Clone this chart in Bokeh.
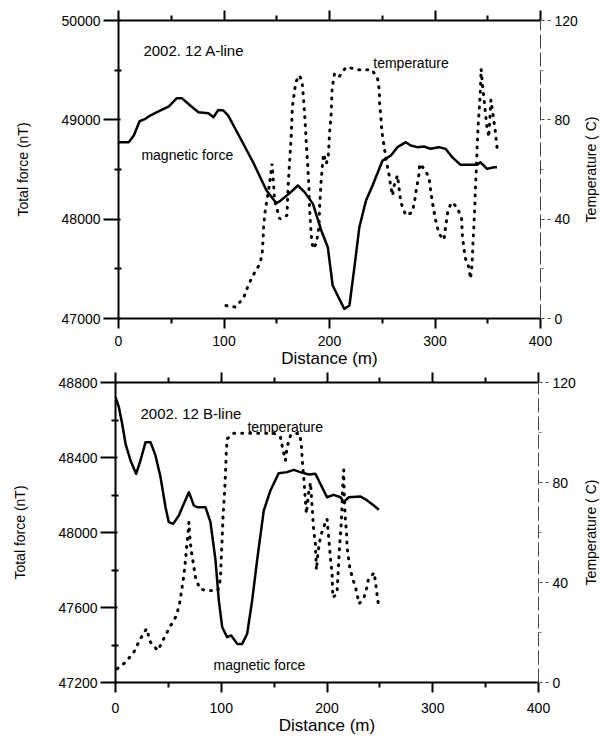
from bokeh.plotting import figure
from bokeh.layouts import column, row
from bokeh.models import (Range1d, LinearAxis, FixedTicker, NumeralTickFormatter, Label, Title)
from bokeh.embed import file_html
from bokeh.resources import INLINE

# ---------------- data: A-line (top) ----------------
a_mag_x = [0, 9.7, 14.5, 20, 25.5, 30, 36.5, 42.8, 47.5, 55.3, 60, 68, 75.8, 85.2, 90, 94.6, 99.4,
           104, 115, 127.6, 140.3, 149.7, 152.5, 162.3, 170, 176.4, 184.3, 192.2, 198.4, 203, 214,
           218.9, 223.6, 228.3, 234.6, 240.8, 250.3, 258.2, 264.4, 272.4, 277, 283.3, 289.6, 295.9,
           303.8, 310, 316.3, 324.2, 332, 340, 343, 349.4, 355.7, 358.8]
a_mag_y = [48775, 48775, 48842, 48986, 49010, 49043, 49077, 49111, 49134, 49218, 49218, 49144,
           49077, 49067, 49026, 49100, 49094, 49043, 48825, 48573, 48288, 48161, 48178, 48262,
           48339, 48272, 48154, 47886, 47718, 47332, 47097, 47131, 47516, 47919, 48188, 48339,
           48590, 48641, 48725, 48775, 48742, 48725, 48731, 48708, 48725, 48708, 48624, 48547,
           48547, 48547, 48573, 48506, 48523, 48523]

a_temp_x = [101.9, 111.3, 118.9, 123.6, 129.2, 134, 136.2, 137, 137.7, 139.3, 141.8, 144, 145.6,
            148, 152.8, 159.7, 160.7, 162.3, 163.8, 164.8, 168, 171.7, 174.2, 175.5, 177, 178,
            179.5, 180.5, 181, 182.7, 184.3, 187.4, 190, 190.6, 192.1, 194.3, 197, 199, 200,
            201.6, 202.5, 204.7, 208.8, 215.7, 227.7, 240.3, 245.6, 247.2, 247.5, 248.8, 249.7,
            251.9, 253.5, 256, 258.2, 259.7, 261.3, 264.4, 266, 267.6, 272.4, 278.6, 281, 282.4,
            284.9, 285.5, 289.6, 294.3, 295.9, 297.5, 300.6, 303.8, 308.5, 310, 312.3, 315.7,
            321.1, 325.2, 325.8, 327.4, 329, 332, 333.7, 335.2, 335.8, 336.8, 337.7, 338.4,
            339.3, 339.9, 340.8, 342.1, 343.1, 343.7, 345, 347, 349, 351, 353, 355, 357, 359]
a_temp_y = [5.2, 4.6, 8.6, 14, 18.6, 22, 26, 31.4, 38, 44.2, 50.3, 56.9, 62.3, 47.5, 40.1, 41.5,
            52.9, 63.6, 74.4, 85.1, 95.2, 97.9, 94.5, 87.8, 78.5, 70.4, 60.9, 52.9, 44.8, 33.4,
            28.1, 30.1, 36.8, 44.8, 55.6, 66.3, 62.3, 66, 74.4, 82.4, 92.5, 98.5, 97.2, 101.2,
            100.2, 100.2, 96.5, 91.8, 86.5, 80.4, 75, 69, 64.3, 58.9, 52.9, 49.5, 53.5, 57.6,
            52.2, 46.8, 41.5, 42.8, 48.2, 52.2, 58.3, 62.3, 60.3, 56.9, 51.5, 46.8, 39.5, 34.1,
            31.7, 36.8, 43.5, 46.8, 44.8, 40.1, 34.1, 28.1, 24, 20.7, 16, 22, 28.7, 36.8, 44.8,
            53.5, 60.9, 68.3, 77, 85.1, 92.5, 100.5, 94, 86, 78, 73, 88, 82, 76, 68]

# ---------------- data: B-line (bottom) ----------------
b_mag_x = [0, 3.2, 6.3, 9.5, 14.2, 19.5, 23.6, 28.4, 33.1, 37.8, 42.6, 47.3, 50.4, 54.5, 59.9,
           64.6, 69.4, 74.1, 77.2, 85.1, 89.8, 94.6, 97.7, 100.9, 105.6, 109.4, 115.1, 119.8,
           124.5, 129.2, 133.9, 140.2, 146.5, 154.3, 162.2, 168.5, 174.8, 182.7, 189, 193.7,
           200, 206.3, 212.8, 215.8, 220.6, 231.7, 238, 244.3, 249]
b_mag_y = [48722, 48668, 48580, 48473, 48384, 48313, 48384, 48482, 48482, 48411, 48295, 48135,
           48055, 48046, 48091, 48153, 48215, 48144, 48135, 48135, 48055, 47851, 47637, 47495,
           47442, 47451, 47406, 47406, 47460, 47637, 47851, 48117, 48224, 48316, 48322, 48334,
           48322, 48309, 48313, 48260, 48188, 48201, 48188, 48162, 48188, 48192, 48171, 48144,
           48121]

b_temp_x = [1.6, 9.5, 17.3, 23, 29.3, 33.1, 40, 45.6, 51.3, 57.7, 60.8, 63, 64.6, 66.2, 67.1,
            68.4, 69.4, 70.3, 71.6, 73.4, 75.6, 79.7, 85.1, 91.4, 96.7, 99.3, 99.9, 100.9, 101.8,
            103.1, 104, 104.7, 105.6, 111.9, 121.4, 130.8, 140.2, 149.7, 156, 158.5, 160.7,
            162.2, 165.5, 169.5, 174.3, 175.9, 176.5, 178, 179.6, 180.5, 182.7, 184.4, 186,
            187.4, 189, 190, 191.5, 193.7, 196.2, 200, 201.6, 203.2, 204.8, 205.5, 209.5, 210.1,
            211, 212, 213.3, 214.2, 214.8, 215.8, 216.5, 217.4, 218.5, 219, 221.5, 224, 227.3,
            230.4, 235, 237.7, 239, 244.6, 246.2, 247.8, 249.3]
b_temp_y = [5.5, 8.1, 12.1, 17.1, 21.5, 16.1, 12.8, 17.5, 22.1, 26.8, 32.1, 38.1, 42.8, 48.8,
            53.5, 58.8, 64.1, 58.1, 52.8, 48.1, 42.1, 37.5, 36.8, 36.8, 36.8, 41.5, 48.8, 58.1,
            67.5, 75.5, 83.5, 91.5, 97.5, 99.7, 99.7, 99.7, 99.7, 99.7, 98.1, 92.8, 88.8, 94.1,
            98.8, 99.7, 99.5, 94.1, 89.5, 82, 72.8, 67.5, 76, 80, 70, 60.8, 55.5, 45, 52, 58,
            61.5, 65.5, 58, 50, 43.5, 34, 35.5, 40.8, 47.5, 55.5, 62, 70, 78, 85, 72, 65, 59.5,
            54, 46, 42, 37.5, 31.5, 34, 38, 41, 44, 39, 33.5, 29.5]

x_ticks = [0, 100, 200, 300, 400]
x_minor = [50, 150, 250, 350]
a_force_ticks = [47000, 48000, 49000, 50000]
a_force_minor = [47500, 48500, 49500]
b_force_ticks = [47200, 47600, 48000, 48400, 48800]
b_force_minor = [47400, 47800, 48200, 48600]
temp_ticks = [0, 40, 80, 120]
temp_minor = [20, 60, 100]

FONT = "Liberation Sans"
SIDE_W = 25


def make_panel(height, left, right, top, bottom, y0, y1, yticks, yminor, lab_standoff,
               mag_x, mag_y, t_x, t_y, line_label, ll_xy, mf_xy, tp_xy):
    p = figure(width=605 - SIDE_W, height=height, x_range=Range1d(0, 400),
               y_range=Range1d(y0, y1),
               x_axis_type=None, y_axis_type=None, output_backend="svg",
               toolbar_location=None, min_border_left=left, min_border_right=right,
               min_border_top=top, min_border_bottom=bottom)
    p.outline_line_color = None
    p.background_fill_color = "white"
    p.border_fill_color = "white"
    p.extra_y_ranges = {"temp": Range1d(0, 120)}

    # left axis
    la = LinearAxis(ticker=FixedTicker(ticks=yticks, minor_ticks=yminor),
                    formatter=NumeralTickFormatter(format="0"),
                    axis_label="Total force (nT)")
    la.axis_line_width = 2
    la.major_tick_out = 15
    la.major_tick_in = 2
    la.major_tick_line_width = 2
    la.minor_tick_out = 4
    la.minor_tick_in = 3
    la.minor_tick_line_width = 2
    la.major_label_standoff = 3
    la.major_label_text_font = FONT
    la.major_label_text_font_size = "14px"
    la.major_label_text_color = "black"
    la.axis_label_text_font = FONT
    la.axis_label_text_font_size = "14px"
    la.axis_label_text_font_style = "normal"
    la.axis_label_text_color = "black"
    la.axis_label_standoff = 28
    p.add_layout(la, "left")

    # bottom axis
    ba = LinearAxis(ticker=FixedTicker(ticks=x_ticks, minor_ticks=x_minor),
                    axis_label="Distance (m)")
    ba.axis_line_width = 2
    ba.major_tick_out = 10
    ba.major_tick_in = 0
    ba.major_tick_line_width = 2
    ba.minor_tick_out = 5
    ba.minor_tick_in = 0
    ba.minor_tick_line_width = 2
    ba.major_label_standoff = lab_standoff
    ba.major_label_text_font = FONT
    ba.major_label_text_font_size = "14px"
    ba.major_label_text_color = "black"
    ba.axis_label_text_font = FONT
    ba.axis_label_text_font_size = "17px"
    ba.axis_label_text_font_style = "normal"
    ba.axis_label_text_color = "black"
    ba.axis_label_standoff = 0
    p.add_layout(ba, "below")

    # top axis (ticks only, no labels)
    ta = LinearAxis(ticker=FixedTicker(ticks=x_ticks, minor_ticks=x_minor))
    ta.axis_line_width = 2
    ta.major_tick_out = 10
    ta.major_tick_in = 0
    ta.major_tick_line_width = 2
    ta.minor_tick_out = 5
    ta.minor_tick_in = 0
    ta.minor_tick_line_width = 2
    ta.major_label_text_color = None
    ta.major_label_standoff = 0
    p.add_layout(ta, "above")

    # right axis (temperature)
    ra = LinearAxis(y_range_name="temp",
                    ticker=FixedTicker(ticks=temp_ticks, minor_ticks=temp_minor))
    ra.axis_line_color = "#444444"
    ra.axis_line_width = 1
    ra.axis_line_dash = "14 4"
    ra.major_tick_out = 10
    ra.major_tick_in = 0
    ra.major_tick_line_color = "#444444"
    ra.major_tick_line_dash = "3 3"
    ra.minor_tick_out = 3
    ra.minor_tick_in = 0
    ra.minor_tick_line_color = "#777777"
    ra.major_label_standoff = 4
    ra.major_label_text_font = FONT
    ra.major_label_text_font_size = "14px"
    ra.major_label_text_color = "black"
    p.add_layout(ra, "right")

    # data
    p.line(mag_x, mag_y, line_color="black", line_width=2.5, line_join="round")
    p.line(t_x, t_y, y_range_name="temp", line_color="black", line_width=3,
           line_dash="1 7", line_cap="round")

    for txt, (tx, ty), fs in [(line_label, ll_xy, "15px"), ("magnetic force", mf_xy, "14px"),
                              ("temperature", tp_xy, "14px")]:
        p.add_layout(Label(x=tx, y=ty, text=txt, text_font=FONT, text_font_size=fs,
                           text_baseline="alphabetic", text_align="left", text_color="black"))

    # narrow strip carrying the right-hand axis title (reads bottom to top)
    s = figure(width=SIDE_W, height=height, x_axis_type=None, y_axis_type=None,
               output_backend="svg", toolbar_location=None, min_border_left=0,
               min_border_right=0, min_border_top=top, min_border_bottom=bottom)
    s.outline_line_color = None
    s.background_fill_color = "white"
    s.border_fill_color = "white"
    s.grid.visible = False
    s.add_layout(Title(text="Temperature ( C)", align="center", text_font=FONT,
                       text_font_size="14px", text_font_style="normal", text_color="black",
                       standoff=0, offset=0), "left")
    return row(p, s, spacing=0)


r1 = make_panel(372, 118, 38, 20, 54, 47000, 50000, a_force_ticks, a_force_minor, 7,
                a_mag_x, a_mag_y, a_temp_x, a_temp_y, "2002. 12 A-line",
                (23.6, 49698), (21.7, 48641), (241.5, 49577))
r2 = make_panel(369, 115, 42, 10, 59, 47200, 48800, b_force_ticks, b_force_minor, 10,
                b_mag_x, b_mag_y, b_temp_x, b_temp_y, "2002. 12 B-line",
                (23.6, 48635), (92.7, 47296), (124.8, 48565))

layout = column(r1, r2, spacing=0)
open("out.html", "w").write(file_html(layout, INLINE))
